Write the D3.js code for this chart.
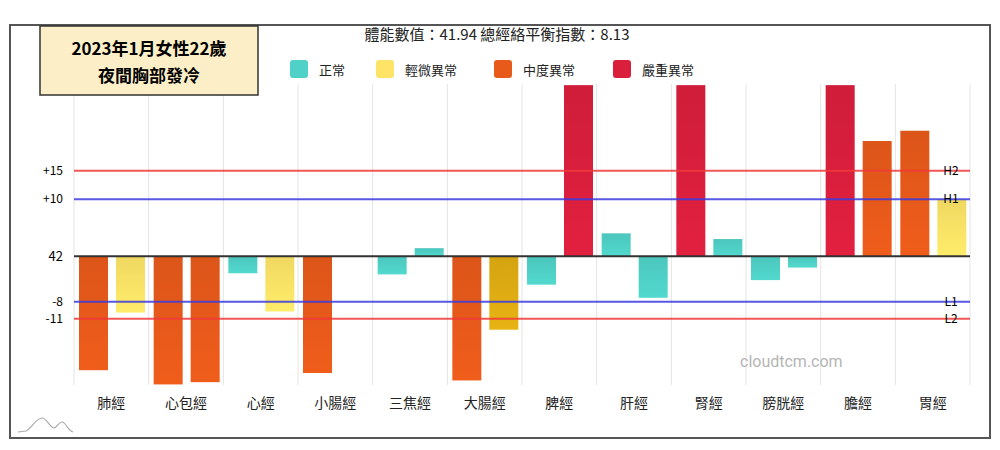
<!DOCTYPE html>
<html><head><meta charset="utf-8">
<script src="https://cdn.jsdelivr.net/npm/d3@7"></script>
<style>body{margin:0;background:#fff;font-family:"Noto Sans CJK TC","Noto Sans",sans-serif}</style>
</head><body><svg id="c" width="1000" height="450"></svg>
<script>
var categories = ['肺經','心包經','心經','小腸經','三焦經','大腸經','脾經','肝經','腎經','膀胱經','膽經','胃經'];
// two bars per meridian, values relative to baseline (42)
var leftValues  = [-20, -22.5, -3, -20.5, -3.2, -21.8, -5, 4, 30, -4.2, 30, 22];
var rightValues = [-9.9, -22.1, -9.7, 0, 1.4, -12.9, 30, -7.3, 3, -2, 20.2, 10];
var leftLevels  = [2, 2, 0, 2, 0, 2, 0, 0, 3, 0, 3, 2];
var rightLevels = [1, 2, 1, 0, 0, 4, 3, 0, 0, 0, 2, 1];
var legendNames = ['正常','輕微異常','中度異常','嚴重異常'];
var levelColors = ['#4fd1c7','#fde466','#e85a1a','#da1f3d','#e0ad12'];
var refLines = [
  {v: 15, label: '+15', tag: 'H2', color: '#f03a3a'},
  {v: 10, label: '+10', tag: 'H1', color: '#3b3be0'},
  {v: -8, label: '-8', tag: 'L1', color: '#3b3be0'},
  {v: -11, label: '-11', tag: 'L2', color: '#f03a3a'}
];

var svg = d3.select('#c');
var defs = svg.append('defs');
levelColors.forEach(function(c, i) {
  var g = defs.append('linearGradient').attr('id', 'g' + i)
    .attr('x1', 0).attr('x2', 0).attr('y1', 0).attr('y2', 1);
  g.append('stop').attr('offset', 0).attr('stop-color', d3.color(c).darker(0.15));
  g.append('stop').attr('offset', 1).attr('stop-color', d3.color(c).brighter(0.1));
});

svg.append('rect').attr('x', 10).attr('y', 25).attr('width', 980).attr('height', 413)
  .attr('fill', 'none').attr('stroke', '#555').attr('stroke-width', 2);

var x = d3.scaleBand().domain(categories).range([74, 970]);
var y = d3.scaleLinear().domain([-22.6, 30.2]).range([385, 84]);
var plotTop = 84, plotBot = 385;

// grid
svg.append('g').selectAll('line').data(d3.range(categories.length + 1)).enter().append('line')
  .attr('x1', function(i) { return 74 + i * x.bandwidth(); })
  .attr('x2', function(i) { return 74 + i * x.bandwidth(); })
  .attr('y1', plotTop).attr('y2', plotBot).attr('stroke', '#e4e4e4');

function drawBars(vals, levels, off) {
  svg.append('g').selectAll('rect').data(vals).enter().append('rect')
    .attr('x', function(d, i) { return x(categories[i]) + off; })
    .attr('width', 29)
    .attr('y', function(d) { return y(Math.max(0, d)); })
    .attr('height', function(d) { return Math.abs(y(d) - y(0)); })
    .attr('fill', function(d, i) { return 'url(#g' + levels[i] + ')'; });
}
drawBars(leftValues, leftLevels, 5);
drawBars(rightValues, rightLevels, 42);

// reference lines
refLines.forEach(function(r) {
  svg.append('line').attr('x1', 74).attr('x2', 970).attr('y1', y(r.v)).attr('y2', y(r.v))
    .attr('stroke', r.color).attr('stroke-width', 2).attr('opacity', 0.85);
  svg.append('text').attr('x', 63).attr('y', y(r.v) + 4).attr('text-anchor', 'end')
    .attr('font-size', 12).text(r.label);
  svg.append('text').attr('x', 951).attr('y', y(r.v) + 4).attr('text-anchor', 'middle')
    .attr('font-size', 12).text(r.tag);
});
svg.append('line').attr('x1', 74).attr('x2', 970).attr('y1', y(0)).attr('y2', y(0))
  .attr('stroke', '#333').attr('stroke-width', 2);
svg.append('text').attr('x', 63).attr('y', y(0) + 5).attr('text-anchor', 'end')
  .attr('font-size', 13).text('42');

// category labels
svg.append('g').selectAll('text').data(categories).enter().append('text')
  .attr('x', function(d) { return x(d) + x.bandwidth() / 2; })
  .attr('y', 408).attr('text-anchor', 'middle').attr('font-size', 14).attr('fill', '#222')
  .text(function(d) { return d; });

// header
svg.append('text').attr('x', 497).attr('y', 40).attr('text-anchor', 'middle')
  .attr('font-size', 15).attr('fill', '#222').text('體能數值：41.94 總經絡平衡指數：8.13');
var legendX = [290, 376, 494, 613];
legendNames.forEach(function(n, i) {
  svg.append('rect').attr('x', legendX[i]).attr('y', 60).attr('width', 18).attr('height', 18)
    .attr('rx', 3).attr('fill', levelColors[i]);
  svg.append('text').attr('x', legendX[i] + 29).attr('y', 75).attr('font-size', 13)
    .attr('fill', '#222').text(n);
});

// title box
svg.append('rect').attr('x', 40).attr('y', 26).attr('width', 218).attr('height', 69)
  .attr('fill', '#fcefc7').attr('stroke', '#333').attr('stroke-width', 1.5);
svg.append('text').attr('x', 149).attr('y', 55).attr('text-anchor', 'middle')
  .attr('font-size', 17).attr('font-weight', 'bold').text('2023年1月女性22歲');
svg.append('text').attr('x', 149).attr('y', 82).attr('text-anchor', 'middle')
  .attr('font-size', 17).attr('font-weight', 'bold').text('夜間胸部發冷');

// watermark and logo
svg.append('text').attr('x', 740).attr('y', 367).attr('font-size', 16)
  .attr('fill', '#b5b5b5').attr('font-family', 'Roboto, sans-serif').text('cloudtcm.com');
svg.append('path').attr('d', 'M18,432 L26,431 C32,428 36,418 42,418 C47,418 50,428 54,428 C57,428 58,422 62,422 C66,422 67,430 73,432')
  .attr('fill', 'none').attr('stroke', '#aaa').attr('stroke-width', 1.2);
</script></body></html>
